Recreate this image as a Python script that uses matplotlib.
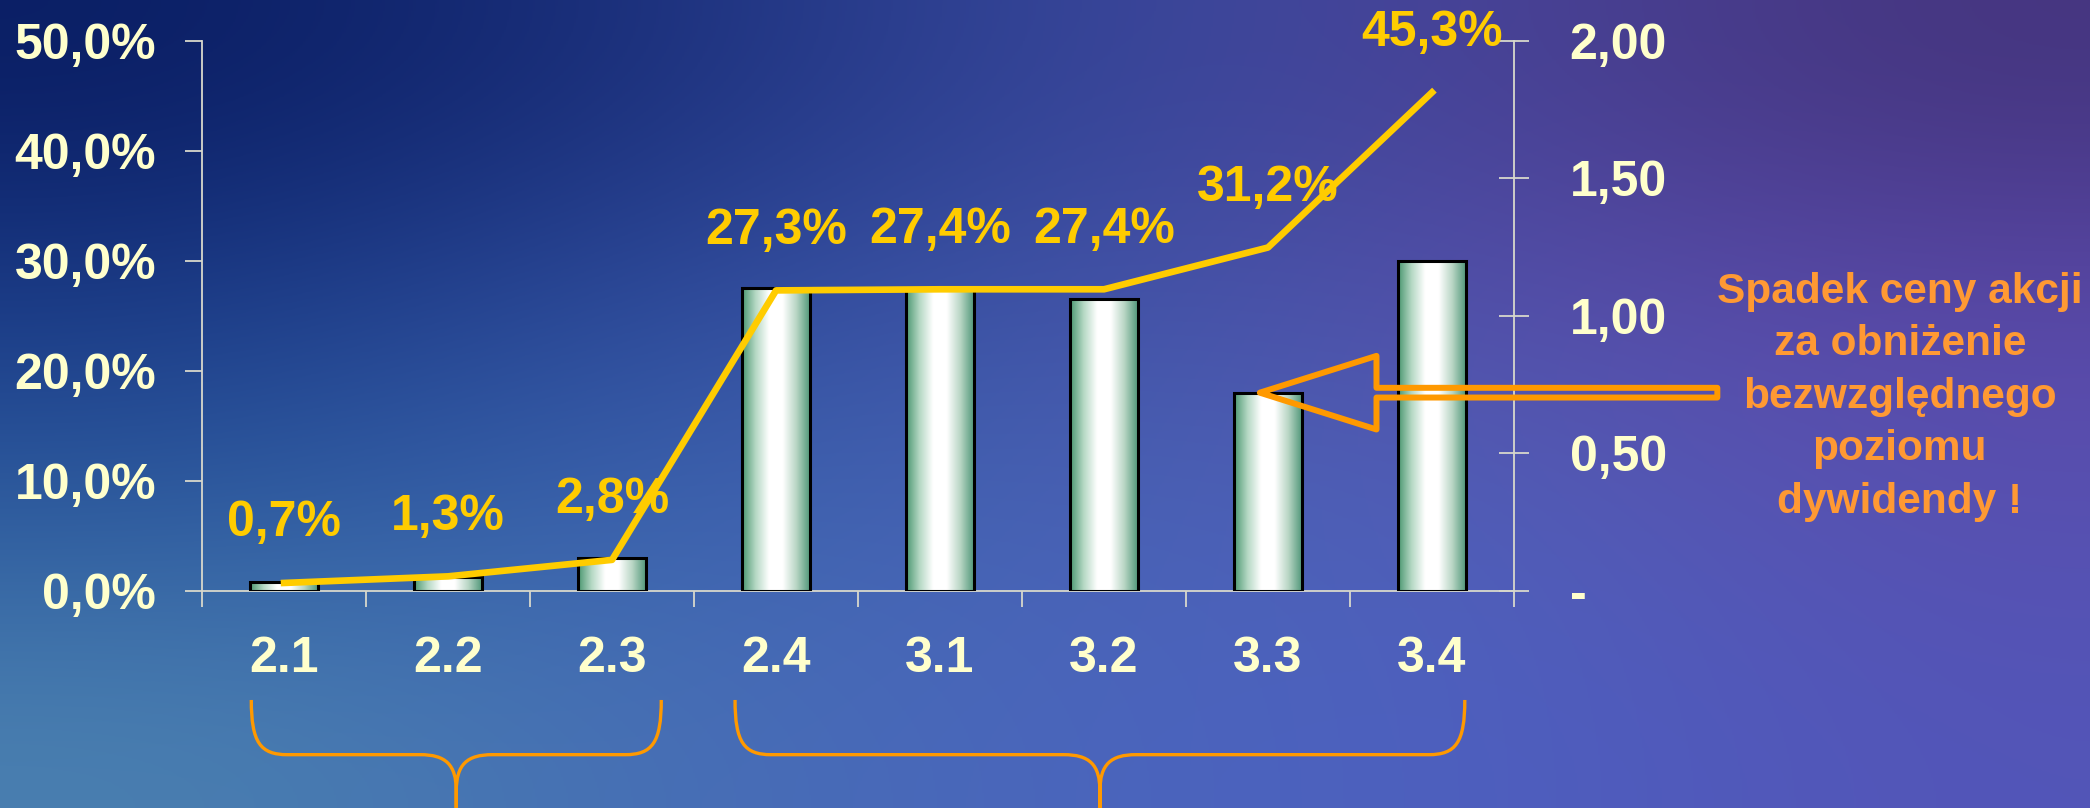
import numpy as np
import matplotlib
matplotlib.use('Agg')
import matplotlib.pyplot as plt
import matplotlib.transforms as mtransforms
from matplotlib.colors import LinearSegmentedColormap, to_rgb
from matplotlib.path import Path
from matplotlib.patches import PathPatch

plt.rcParams['font.family'] = ['Liberation Sans', 'DejaVu Sans']
plt.rcParams['font.weight'] = 'bold'

# dane
categories = ['2.1', '2.2', '2.3', '2.4', '3.1', '3.2', '3.3', '3.4']
bar_values = [0.03, 0.05, 0.12, 1.10, 1.10, 1.06, 0.72, 1.20]     # prawa oś
line_values = [0.7, 1.3, 2.8, 27.3, 27.4, 27.4, 31.2, 45.3]        # lewa oś, %
left_ticks = [0, 10, 20, 30, 40, 50]
left_tick_labels = ['0,0%', '10,0%', '20,0%', '30,0%', '40,0%', '50,0%']
right_ticks = [0, 0.5, 1.0, 1.5, 2.0]
right_tick_labels = ['-', '0,50', '1,00', '1,50', '2,00']
note_lines = ['Spadek ceny akcji', 'za obniżenie', 'bezwzględnego', 'poziomu', 'dywidendy !']
brace_spans = [(-0.2, 2.3), (2.75, 7.2)]
arrow_bar = 6          # słupek 3.3

# kolory
TICK_C = '#FFFFCC'
LINE_C = '#FFCC00'
NOTE_C = '#FF9933'
BRACE_C = '#FF9900'
AXIS_C = '#D8D8CC'
FS = 36

fig = plt.figure(figsize=(20.9, 8.08), dpi=100)

# tło - gradient
bg_grid = [
    ['#0a1e64', '#1a2f7a', '#34479a', '#4a449a', '#45357f'],
    ['#1a3a86', '#2d4a9a', '#3f55a8', '#5550aa', '#5a48a8'],
    ['#2c5a9e', '#3a64ae', '#4862b4', '#5060b8', '#5850b0'],
    ['#4a80b0', '#4670b4', '#4a65bc', '#4d60c0', '#5355b8'],
]
bg = fig.add_axes([0, 0, 1, 1], zorder=-5)
bg.imshow(np.array([[to_rgb(c) for c in row] for row in bg_grid]),
          extent=[0, 1, 0, 1], aspect='auto', interpolation='bicubic')
bg.set_xlim(0, 1)
bg.set_ylim(0, 1)
bg.axis('off')

ax = fig.add_axes([0.0967, 0.269, 0.7244 - 0.0967, 0.9496 - 0.269])
ax.patch.set_alpha(0)
ax2 = ax.twinx()
ax2.patch.set_alpha(0)
x = np.arange(len(categories))

# słupki z gradientem (walec) - prawa oś
bar_cmap = LinearSegmentedColormap.from_list('cyl', [
    (0.0, '#4a9770'), (0.2, '#b5d8c4'), (0.4, '#ffffff'),
    (0.6, '#ffffff'), (0.8, '#b9d6c5'), (1.0, '#52987a')])
grad = np.linspace(0, 1, 256).reshape(1, -1)
bars = ax.bar(x, bar_values, width=0.41, facecolor='none', edgecolor='black',
              linewidth=2.2, zorder=3)
for b in bars:
    x0, w, h = b.get_x(), b.get_width(), b.get_height()
    ax.imshow(grad, extent=[x0, x0 + w, 0, h], aspect='auto', cmap=bar_cmap, zorder=2)

ax.set_xlim(-0.5, len(categories) - 0.5)
ax.set_ylim(0, 2.0)
ax.yaxis.tick_right()
ax.set_yticks(right_ticks)
ax.set_yticklabels(right_tick_labels)
ax.tick_params(axis='y', direction='inout', length=22, width=1.3, color=AXIS_C,
               pad=29, labelsize=FS, labelcolor=TICK_C)
ax.set_xticks(x)
ax.set_xticklabels(categories)
ax.set_xticks(np.arange(-0.5, len(categories), 1), minor=True)
ax.tick_params(axis='x', which='major', length=0, pad=33, labelsize=FS, labelcolor=TICK_C)
ax.tick_params(axis='x', which='minor', direction='out', length=11.5, width=1.3, color=AXIS_C)
for s in ['top', 'left']:
    ax.spines[s].set_visible(False)
for s in ['right', 'bottom']:
    ax.spines[s].set_color(AXIS_C)
    ax.spines[s].set_linewidth(1.3)

# linia procentowa - lewa oś
ax2.yaxis.tick_left()
ax2.plot(x, line_values, color=LINE_C, lw=4.8, zorder=5)
ax2.set_ylim(0, 50)
ax2.set_yticks(left_ticks)
ax2.set_yticklabels(left_tick_labels)
ax2.tick_params(axis='y', direction='out', length=12, width=1.3, color=AXIS_C,
                pad=21, labelsize=FS, labelcolor=TICK_C)
for s in ['top', 'right', 'bottom']:
    ax2.spines[s].set_visible(False)
ax2.spines['left'].set_color(AXIS_C)
ax2.spines['left'].set_linewidth(1.3)

for xi, v in zip(x, line_values):
    ax2.annotate(f'{v:.1f}%'.replace('.', ','), (xi, v), xytext=(0, 43),
                 textcoords='offset points', ha='center', va='center',
                 fontsize=FS, color=LINE_C, fontweight='bold', zorder=6)

# strzałka do słupka 3.3
ax.annotate('', xy=(arrow_bar - 0.05, bar_values[arrow_bar]),
            xytext=(8.74, bar_values[arrow_bar]),
            arrowprops=dict(arrowstyle='simple,head_length=84,head_width=53,tail_width=7',
                            mutation_scale=1, facecolor='none', edgecolor=BRACE_C,
                            linewidth=4.3, shrinkA=0, shrinkB=0),
            annotation_clip=False, zorder=7)

fig.text(0.909, 0.509, '\n'.join(note_lines), ha='center', va='center',
         fontsize=30.5, color=NOTE_C, fontweight='bold', linespacing=1.4)

# klamry pod osią
trans = mtransforms.blended_transform_factory(ax.transData, fig.transFigure)
top, mid, bot = 0.1337, 0.066, -0.01
r = 0.22
for a, b in brace_spans:
    c = (a + b) / 2
    verts, codes = [], []
    for sgn, edge in ((1, a), (-1, b)):
        verts += [(edge, top), (edge, mid + 0.015), (edge + sgn * r * 0.25, mid), (edge + sgn * r, mid),
                  (c - sgn * r, mid),
                  (c - sgn * r * 0.3, mid), (c, mid - 0.012), (c, mid - 0.045),
                  (c, bot)]
        codes += [Path.MOVETO, Path.CURVE4, Path.CURVE4, Path.CURVE4,
                  Path.LINETO,
                  Path.CURVE4, Path.CURVE4, Path.CURVE4,
                  Path.LINETO]
    fig.patches.append(PathPatch(Path(verts, codes), transform=trans, facecolor='none',
                                 edgecolor=BRACE_C, linewidth=2.4, clip_on=False))

fig.savefig('out.png', dpi=100)
